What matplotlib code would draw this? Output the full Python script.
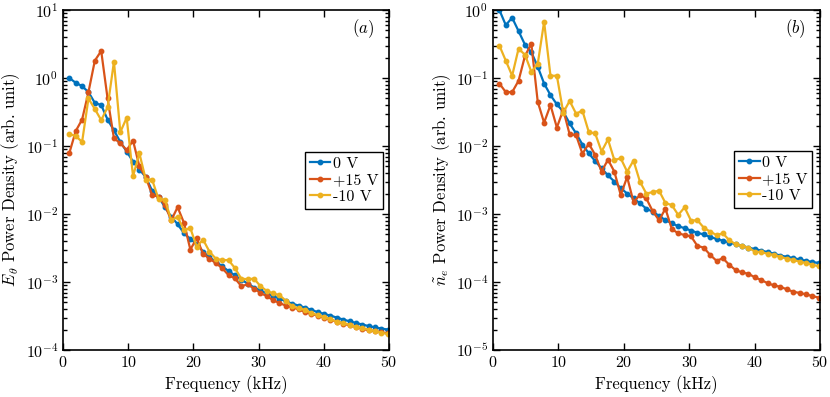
import numpy as np
import matplotlib
matplotlib.use("Agg")
import matplotlib.pyplot as plt
from matplotlib.ticker import LogLocator, NullFormatter, FixedLocator

plt.rcParams['font.family'] = ['cmr10', 'DejaVu Serif']
plt.rcParams['mathtext.fontset'] = 'cm'
plt.rcParams['axes.formatter.use_mathtext'] = True

# frequency grid (kHz)
df_khz = 0.9766
freq_khz = np.arange(1, 52) * df_khz

series_labels = ["0 V", "+15 V", "-10 V"]
colors = ["#0072BD", "#D95319", "#EDB120"]

# (a) E_theta power density
E_0V = [1.0, 0.85, 0.76, 0.62, 0.43, 0.40, 0.245, 0.17, 0.115, 0.083,
        0.059, 0.045, 0.035, 0.022, 0.018, 0.0126, 0.0091, 0.0071, 0.0052, 0.0043,
        0.0036, 0.0028, 0.0023, 0.0020, 0.0017, 0.00145, 0.00125, 0.00108, 0.00095, 0.00083,
        0.00075, 0.00068, 0.00062, 0.00057, 0.00052, 0.00048, 0.00045, 0.00042, 0.00039, 0.00036,
        3.4e-4, 3.2e-4, 3.0e-4, 2.8e-4, 2.65e-4, 2.5e-4, 2.37e-4, 2.25e-4, 2.15e-4, 2.07e-4, 2.0e-4]
E_p15V = [0.079, 0.166, 0.245, 0.62, 1.8, 2.5, 0.5, 0.13, 0.11, 0.087,
          0.12, 0.05, 0.035, 0.019, 0.018, 0.0135, 0.0081, 0.0126, 0.0074, 0.0030,
          0.0044, 0.0026, 0.0022, 0.0019, 0.0016, 0.00126, 0.00113, 0.00087, 0.00092, 0.0008,
          6.9e-4, 6.2e-4, 5.4e-4, 4.9e-4, 4.5e-4, 4.2e-4, 4.0e-4, 3.6e-4, 3.4e-4, 3.2e-4,
          3.0e-4, 2.8e-4, 2.6e-4, 2.45e-4, 2.3e-4, 2.2e-4, 2.05e-4, 1.95e-4, 1.9e-4, 1.82e-4, 1.76e-4]
E_m10V = [0.15, 0.14, 0.115, 0.50, 0.35, 0.24, 0.37, 1.74, 0.16, 0.26,
          0.036, 0.078, 0.032, 0.032, 0.0166, 0.0163, 0.0081, 0.0091, 0.0058, 0.0062,
          0.0033, 0.0042, 0.0028, 0.0022, 0.0021, 0.0021, 0.0016, 0.00112, 0.0011, 0.00112,
          8.7e-4, 7.4e-4, 6.8e-4, 6.4e-4, 5.3e-4, 4.4e-4, 4.1e-4, 3.9e-4, 3.5e-4, 3.25e-4,
          3.05e-4, 2.85e-4, 2.6e-4, 2.5e-4, 2.35e-4, 2.2e-4, 2.1e-4, 2.0e-4, 1.9e-4, 1.8e-4, 1.72e-4]

# (b) n_e power density
n_0V = [1.0, 0.60, 0.77, 0.49, 0.31, 0.24, 0.147, 0.083, 0.056, 0.041,
        0.032, 0.0215, 0.0154, 0.0105, 0.0078, 0.006, 0.0047, 0.0037, 0.0030, 0.0024,
        0.0020, 0.0017, 0.00144, 0.0012, 0.00108, 0.00094, 0.00081, 0.00073, 0.00066, 0.00062,
        0.00057, 0.00053, 0.0005, 0.00046, 0.00043, 0.000405, 0.00038, 0.00036, 0.00034, 0.00032,
        3.05e-4, 2.9e-4, 2.75e-4, 2.6e-4, 2.45e-4, 2.35e-4, 2.25e-4, 2.15e-4, 2.05e-4, 1.97e-4, 1.9e-4]
n_p15V = [0.083, 0.062, 0.062, 0.091, 0.21, 0.32, 0.045, 0.022, 0.040, 0.0187,
          0.034, 0.0148, 0.0145, 0.0077, 0.0108, 0.0074, 0.0042, 0.0063, 0.0042, 0.0019,
          0.0035, 0.0015, 0.0019, 0.0017, 0.0011, 0.00081, 0.0012, 0.0006, 0.00052, 0.00049,
          0.00047, 0.00034, 0.00032, 0.00025, 0.000205, 0.000224, 0.000178, 0.00015, 0.000138, 0.000132,
          1.17e-4, 1.07e-4, 9.6e-5, 8.9e-5, 8.5e-5, 7.8e-5, 7.2e-5, 6.9e-5, 6.6e-5, 6.2e-5, 5.9e-5]
n_m10V = [0.30, 0.18, 0.108, 0.27, 0.22, 0.124, 0.16, 0.67, 0.108, 0.108,
          0.031, 0.046, 0.030, 0.033, 0.016, 0.0153, 0.0083, 0.0125, 0.0062, 0.0066,
          0.0042, 0.0061, 0.0030, 0.0020, 0.0021, 0.0022, 0.00145, 0.00135, 0.00097, 0.00125,
          0.0008, 0.00081, 0.00063, 0.00055, 0.00049, 0.00052, 0.00041, 0.00036, 0.00034, 0.00032,
          2.8e-4, 2.75e-4, 2.6e-4, 2.5e-4, 2.35e-4, 2.2e-4, 2.1e-4, 2.0e-4, 1.9e-4, 1.8e-4, 1.7e-4]

x_ticks = [0, 10, 20, 30, 40, 50]

fig = plt.figure(figsize=(8.30, 3.97), dpi=100)
ax1 = fig.add_axes([63/830, 47/397, 326/830, 340/397])
ax2 = fig.add_axes([493/830, 47/397, 327/830, 340/397])

panels = [
    (ax1, [E_0V, E_p15V, E_m10V], (1e-4, 1e1), r'$\tilde{E}_\theta$ Power Density (arb. unit)', r'$(a)$', (0.9825, 0.583)),
    (ax2, [n_0V, n_p15V, n_m10V], (1e-5, 1e0), r'$\tilde{n}_e$ Power Density (arb. unit)', r'$(b)$', (0.9765, 0.586)),
]

for ax, data, ylim, ylab, tag, leg_anchor in panels:
    for vals, lab, c in zip(data, series_labels, colors):
        ax.plot(freq_khz, vals, '-o', color=c, lw=1.6, ms=3.2, label=lab)
    ax.set_yscale('log')
    ax.set_xlim(0, 50)
    ax.set_ylim(*ylim)
    ax.xaxis.set_major_locator(FixedLocator(x_ticks))
    ax.yaxis.set_major_locator(LogLocator(base=10, numticks=10))
    ax.yaxis.set_minor_locator(LogLocator(base=10, subs=np.arange(2, 10), numticks=20))
    ax.yaxis.set_minor_formatter(NullFormatter())
    ax.tick_params(which='both', direction='in', top=True, right=True, labelsize=11.5, width=1.0)
    ax.tick_params(which='major', length=5)
    ax.tick_params(which='minor', length=3)
    for sp in ax.spines.values():
        sp.set_linewidth(1.2)
    ax.set_xlabel('Frequency (kHz)', fontsize=12)
    ax.set_ylabel(ylab, fontsize=12)
    ax.yaxis.set_label_coords(-0.122, 0.5)
    ax.text(0.955, 0.945, tag, transform=ax.transAxes, ha='right', va='center', fontsize=12)
    leg = ax.legend(loc='upper right', bbox_to_anchor=leg_anchor, borderaxespad=0,
                    fontsize=11.5, handlelength=1.3, handletextpad=0.15, labelspacing=0.15,
                    borderpad=0.3, fancybox=False, framealpha=1, edgecolor='black')
    leg.get_frame().set_linewidth(1.0)

fig.savefig('out.png', dpi=100)
